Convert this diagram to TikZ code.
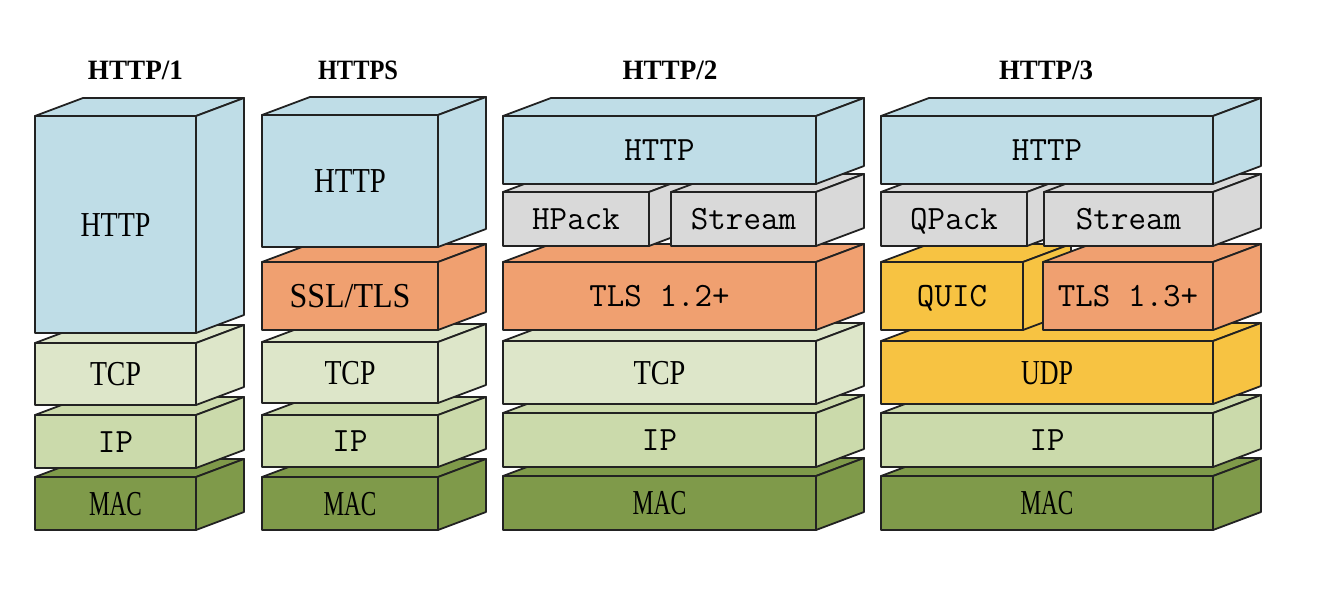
\documentclass[tikz,border=0pt]{standalone}
\usepackage{fontspec}
\setmainfont{Liberation Serif}
\usepackage{graphicx}
\definecolor{cBlue}{HTML}{BFDDE7}
\definecolor{cGray}{HTML}{D9D9D9}
\definecolor{cOrange}{HTML}{F0A070}
\definecolor{cTcp}{HTML}{DDE6C9}
\definecolor{cIp}{HTML}{CBDAAB}
\definecolor{cMac}{HTML}{7F9A4A}
\definecolor{cYellow}{HTML}{F7C342}
\definecolor{cEdge}{HTML}{222222}
\newcommand{\sw}[2]{\resizebox{#1pt}{\height}{#2}}
\tikzset{
  face/.style={rectangle, draw=cEdge, line width=1.8pt, line join=round, inner sep=0pt, outer sep=0pt},
  edge/.style={draw=cEdge, line width=1.8pt, line join=round},
  serif/.style={font=\fontsize{35}{40}\selectfont, text height=23pt, text depth=0pt},
  mono/.style={font=\ttfamily\fontsize{34}{40}\selectfont, text height=21pt, text depth=0pt},
  title/.style={font=\bfseries\fontsize{28}{32}\selectfont, anchor=base}
}
% #1 name, #2 x1, #3 y1, #4 x2, #5 y2, #6 colour, #7 font style, #8 text
\newcommand{\lay}[8]{%
  \node[face, fill=#6, #7, minimum width={#4pt-#2pt}, minimum height={#5pt-#3pt}]
    (#1) at ({(#2+#4)/2},{(#3+#5)/2}) {#8};
  \filldraw[edge, fill=#6] (#1.north west) -- ++(48,-18)
    -- ([shift={(48,-18)}]#1.north east) -- (#1.north east) -- cycle;
  \filldraw[edge, fill=#6] (#1.north east) -- ++(48,-18)
    -- ([shift={(48,-18)}]#1.south east) -- (#1.south east) -- cycle;
}
\begin{document}
\begin{tikzpicture}[x=1pt, y=-1pt]
\useasboundingbox (0,0) rectangle (1320,602);
% titles
\node[title] (t1) at (135.5,79) {\sw{95}{HTTP/1}};
\node[title] (t2) at (358,79) {\sw{80}{HTTPS}};
\node[title] (t3) at (670,79) {\sw{95}{HTTP/2}};
\node[title] (t4) at (1046,79) {\sw{94}{HTTP/3}};
% column 1: HTTP/1
\lay{amac}{35}{477}{196}{530}{cMac}{serif}{\sw{53}{MAC}}
\lay{aip}{35}{415}{196}{468}{cIp}{mono}{IP}
\lay{atcp}{35}{343}{196}{405}{cTcp}{serif}{\sw{51}{TCP}}
\lay{ahttp}{35}{116}{196}{333}{cBlue}{serif}{\sw{70}{HTTP}}
% column 2: HTTPS
\lay{bmac}{262}{477}{438}{530}{cMac}{serif}{\sw{53}{MAC}}
\lay{bip}{262}{415}{438}{467}{cIp}{mono}{IP}
\lay{btcp}{262}{342}{438}{403}{cTcp}{serif}{\sw{51}{TCP}}
\lay{btls}{262}{262}{438}{330}{cOrange}{serif}{\sw{121}{SSL/TLS}}
\lay{bhttp}{262}{115}{438}{247}{cBlue}{serif}{\sw{72}{HTTP}}
% column 3: HTTP/2
\lay{cmac}{503}{476}{816}{530}{cMac}{serif}{\sw{54}{MAC}}
\lay{cip}{503}{413}{816}{467}{cIp}{mono}{IP}
\lay{ctcp}{503}{341}{816}{404}{cTcp}{serif}{\sw{52}{TCP}}
\lay{ctls}{503}{262}{816}{330}{cOrange}{mono}{TLS 1.2+}
\lay{chpack}{503}{192}{649}{246}{cGray}{mono}{HPack}
\lay{cstream}{671}{192}{816}{246}{cGray}{mono}{Stream}
\lay{chttp}{503}{116}{816}{184}{cBlue}{mono}{HTTP}
% column 4: HTTP/3
\lay{dmac}{881}{476}{1213}{530}{cMac}{serif}{\sw{53}{MAC}}
\lay{dip}{881}{413}{1213}{467}{cIp}{mono}{IP}
\lay{dudp}{881}{341}{1213}{404}{cYellow}{serif}{\sw{52}{UDP}}
\lay{dquic}{881}{262}{1023}{330}{cYellow}{mono}{QUIC}
\lay{dtls}{1043}{262}{1213}{330}{cOrange}{mono}{TLS 1.3+}
\lay{dqpack}{881}{192}{1027}{246}{cGray}{mono}{QPack}
\lay{dstream}{1044}{192}{1213}{246}{cGray}{mono}{Stream}
\lay{dhttp}{881}{116}{1213}{184}{cBlue}{mono}{HTTP}
\end{tikzpicture}
\end{document}
